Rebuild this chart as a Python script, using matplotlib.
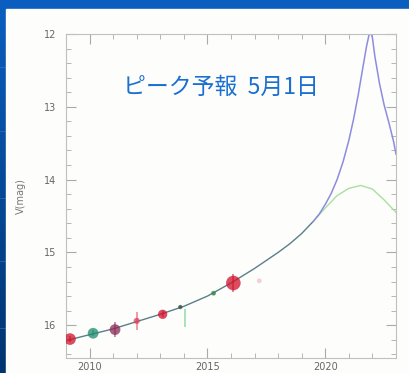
import matplotlib
matplotlib.use("Agg")
import matplotlib.pyplot as plt
import numpy as np
from matplotlib.patches import Rectangle
from matplotlib.ticker import MultipleLocator

# forecast light curves (year, V mag)
fc_years = [2009.0, 2010.0, 2011.0, 2012.0, 2013.0, 2014.0, 2015.0, 2016.0,
            2016.5, 2017.0, 2017.5, 2018.0, 2018.5, 2019.0, 2019.5]
fc_mags = [16.21, 16.13, 16.05, 15.95, 15.85, 15.74, 15.60, 15.42,
           15.32, 15.22, 15.11, 15.00, 14.88, 14.74, 14.57]

blue_years = [2019.5, 2019.75, 2020.0, 2020.25, 2020.5, 2020.75, 2021.0, 2021.2,
              2021.4, 2021.6, 2021.75, 2021.85, 2021.92, 2022.0, 2022.1,
              2022.3, 2022.5, 2022.7, 2022.9, 2023.0]
blue_mags = [14.57, 14.47, 14.34, 14.19, 14.00, 13.76, 13.46, 13.17,
             12.83, 12.45, 12.17, 12.02, 11.97, 12.05, 12.30,
             12.68, 12.98, 13.22, 13.48, 13.65]

green_years = [2019.5, 2019.75, 2020.0, 2020.5, 2021.0, 2021.5, 2022.0, 2022.5, 2023.0]
green_mags = [14.57, 14.48, 14.39, 14.22, 14.12, 14.08, 14.13, 14.28, 14.45]

# observations
obs_years = [2009.17, 2010.15, 2011.08, 2012.0, 2013.1, 2013.85, 2014.06, 2015.26, 2016.1]
obs_mags = [16.19, 16.11, 16.06, 15.94, 15.85, 15.75, 15.90, 15.56, 15.42]
obs_err = [0.04, 0.04, 0.10, 0.12, 0.04, 0.02, 0.12, 0.02, 0.12]
obs_cols = ['#d0102a', '#1f8a6a', '#8a2a55', '#e0405a', '#d0102a',
            '#335544', '#55cc77', '#2f8a4a', '#d0102a']
obs_size = [70, 60, 60, 20, 45, 10, 0, 12, 110]

fig = plt.figure(figsize=(4.1, 3.73), dpi=100)

# slide background
bg = fig.add_axes([0, 0, 1, 1])
grad = np.linspace(0, 1, 256).reshape(-1, 1)
bg.imshow(grad, aspect='auto', cmap=matplotlib.colors.LinearSegmentedColormap.from_list(
    'bg', ['#0a5fc0', '#003470']), extent=[0, 1, 0, 1], origin='upper')
for yy in [0.82, 0.65, 0.47, 0.30, 0.12]:
    bg.axhline(yy, color='#3a80d0', lw=0.6, alpha=0.6)
bg.add_patch(Rectangle((6 / 410, 0), 1, 1 - 9 / 373, color='#fdfdfb', zorder=3))
bg.set_xlim(0, 1)
bg.set_ylim(0, 1)
bg.axis('off')

ax = fig.add_axes([66 / 410, 15 / 373, 330 / 410, 324 / 373])
ax.set_facecolor('none')

ax.plot(fc_years, fc_mags, color='#5a7f8a', lw=1.0, zorder=2)
ax.plot(green_years, green_mags, color='#a8e0a0', lw=1.0, zorder=2)
ax.plot(blue_years, blue_mags, color='#8c8ce0', lw=1.1, zorder=2)

for x, y, e, c, s in zip(obs_years, obs_mags, obs_err, obs_cols, obs_size):
    ax.errorbar(x, y, yerr=e, fmt='none', ecolor=c, elinewidth=1.2, alpha=0.6, zorder=3)
    if s > 0:
        ax.scatter(x, y, s=s, color=c, alpha=0.75, edgecolors='none', zorder=4)
ax.scatter([2017.2], [15.39], s=12, color='#f0a0b0', alpha=0.5, edgecolors='none')

ax.set_xlim(2009, 2023)
ax.set_ylim(16.45, 12)
ax.set_xticks([2010, 2015, 2020])
ax.set_yticks([12, 13, 14, 15, 16])
ax.xaxis.set_minor_locator(MultipleLocator(1))
ax.yaxis.set_minor_locator(MultipleLocator(0.2))
ax.tick_params(which='both', direction='in', top=True, right=True,
               color='#aaaaaa', labelcolor='#666666', labelsize=7)
ax.tick_params(which='major', length=7)
ax.tick_params(which='minor', length=3.5)
ax.tick_params(axis='y', pad=7)
ax.tick_params(axis='x', pad=3)
for sp in ax.spines.values():
    sp.set_color('#c0c0c0')
ax.set_ylabel('V(mag)', color='#777777', fontsize=7, labelpad=13)

ax.text(0.47, 0.835, 'ピーク予報  5月1日', transform=ax.transAxes,
        ha='center', va='center', color='#1a6fd0', fontsize=16.5,
        family=['Noto Sans CJK JP', 'DejaVu Sans'])

fig.savefig('out.png', dpi=100)
